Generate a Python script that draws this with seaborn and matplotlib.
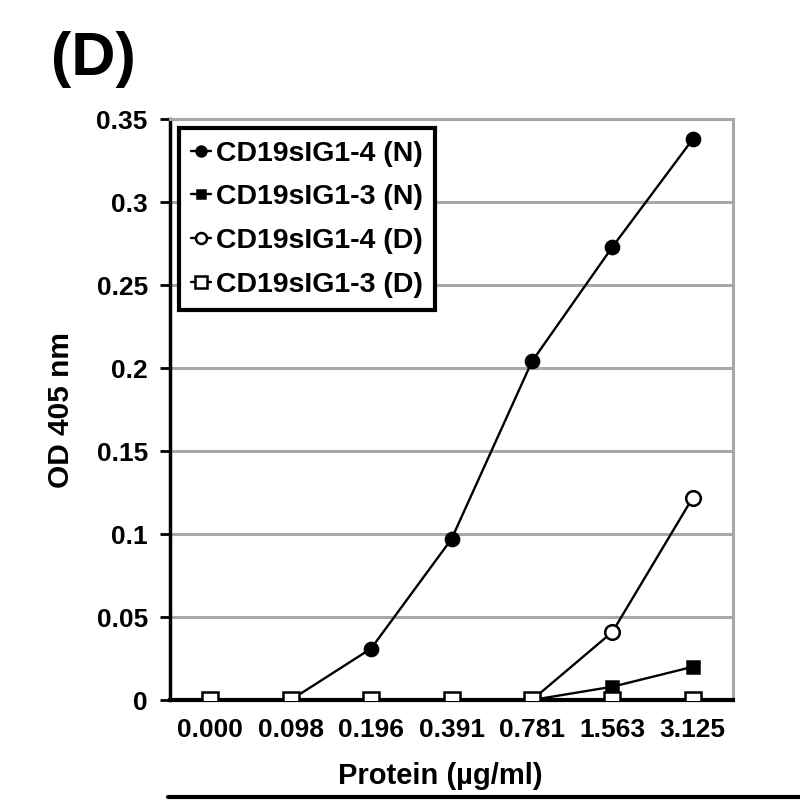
import matplotlib
matplotlib.use('Agg')
import matplotlib.pyplot as plt
from matplotlib.lines import Line2D
from matplotlib.ticker import FormatStrFormatter, FixedLocator
import seaborn as sns
import pandas as pd

# protein concentrations on the x axis (categorical)
protein = ['0.000', '0.098', '0.196', '0.391', '0.781', '1.563', '3.125']

# OD 405 nm readings
cd4_n = [0.0, 0.0, 0.031, 0.097, 0.204, 0.273, 0.338]
cd3_n = [0.0, 0.0, 0.0, 0.0, 0.0, 0.008, 0.020]
cd4_d = [0.0, 0.0, 0.0, 0.0, 0.0, 0.041, 0.122]
cd3_d = [0.0, 0.0, 0.0, 0.0, 0.0, 0.0, 0.0]

names = ['CD19sIG1-4 (N)', 'CD19sIG1-3 (N)', 'CD19sIG1-4 (D)', 'CD19sIG1-3 (D)']

df = pd.DataFrame({'pos': range(len(protein)),
                   names[0]: cd4_n, names[1]: cd3_n,
                   names[2]: cd4_d, names[3]: cd3_d})

sns.set_style('white')
plt.rcParams['font.family'] = ['Liberation Sans', 'DejaVu Sans']
plt.rcParams['font.weight'] = 'bold'
plt.rcParams['text.color'] = 'black'
plt.rcParams['axes.labelcolor'] = 'black'
plt.rcParams['xtick.color'] = 'black'
plt.rcParams['ytick.color'] = 'black'

fig = plt.figure(figsize=(8, 8), dpi=100)
ax = fig.add_axes([0.2125, 0.125, 0.7038, 0.726])

styles = [
    dict(marker='o', markerfacecolor='black', markersize=9.5),
    dict(marker='s', markerfacecolor='black', markersize=8.5),
    dict(marker='o', markerfacecolor='white', markersize=10.5),
    dict(marker='s', markerfacecolor='white', markersize=11),
]
for i, (name, st) in enumerate(zip(names, styles)):
    sns.lineplot(data=df, x='pos', y=name, ax=ax, color='black', linewidth=1.7,
                 markeredgecolor='black', markeredgewidth=1.8, label=name,
                 zorder=3 + i, **st)

ax.set_xlim(-0.5, len(protein) - 0.5)
ax.set_ylim(0, 0.35)
ax.set_yticks([0, 0.05, 0.1, 0.15, 0.2, 0.25, 0.3, 0.35])
ax.yaxis.set_major_formatter(FormatStrFormatter('%g'))
ax.set_xticks(range(len(protein)))
ax.set_xticklabels(protein)
ax.xaxis.set_minor_locator(FixedLocator([k - 0.5 for k in range(len(protein) + 1)]))

ax.tick_params(axis='x', which='major', length=0, pad=13, labelsize=19)
ax.tick_params(axis='x', which='minor', length=7, width=2, direction='out', color='black')
ax.tick_params(axis='y', length=7, width=2, direction='out', color='black',
               pad=9, labelsize=19)
ax.tick_params(left=True, bottom=True)

ax.yaxis.grid(True, color='#a8a8a8', linewidth=2.2)
ax.set_axisbelow(True)
for s in ['top', 'right']:
    ax.spines[s].set_color('#a8a8a8')
    ax.spines[s].set_linewidth(2.2)
ax.spines['left'].set_color('black')
ax.spines['left'].set_linewidth(2.5)
ax.spines['bottom'].set_color('black')
ax.spines['bottom'].set_linewidth(3)

ax.set_ylabel('OD 405 nm', fontsize=21.5, fontweight='bold')
ax.yaxis.set_label_coords(-0.168, 0.5)
ax.set_xlabel('Protein (µg/ml)', fontsize=21, fontweight='bold')
ax.xaxis.set_label_coords(0.48, -0.106)

leg = ax.legend(loc='upper left', bbox_to_anchor=(0.0, 1.0), fontsize=20.5,
                frameon=True, fancybox=False, handlelength=0.7,
                handletextpad=0.15, labelspacing=0.62, borderpad=0.45,
                borderaxespad=0.3, markerscale=0.75)
leg.get_frame().set_edgecolor('black')
leg.get_frame().set_linewidth(3)
leg.get_frame().set_alpha(1)
for t in leg.get_texts():
    t.set_fontweight('bold')

fig.text(0.064, 0.906, '(D)', fontsize=44, fontweight='bold', va='baseline', ha='left')
fig.add_artist(Line2D([0.21, 1.0], [0.004, 0.004], color='black', linewidth=3,
                      transform=fig.transFigure))

fig.savefig('out.png', dpi=100)
